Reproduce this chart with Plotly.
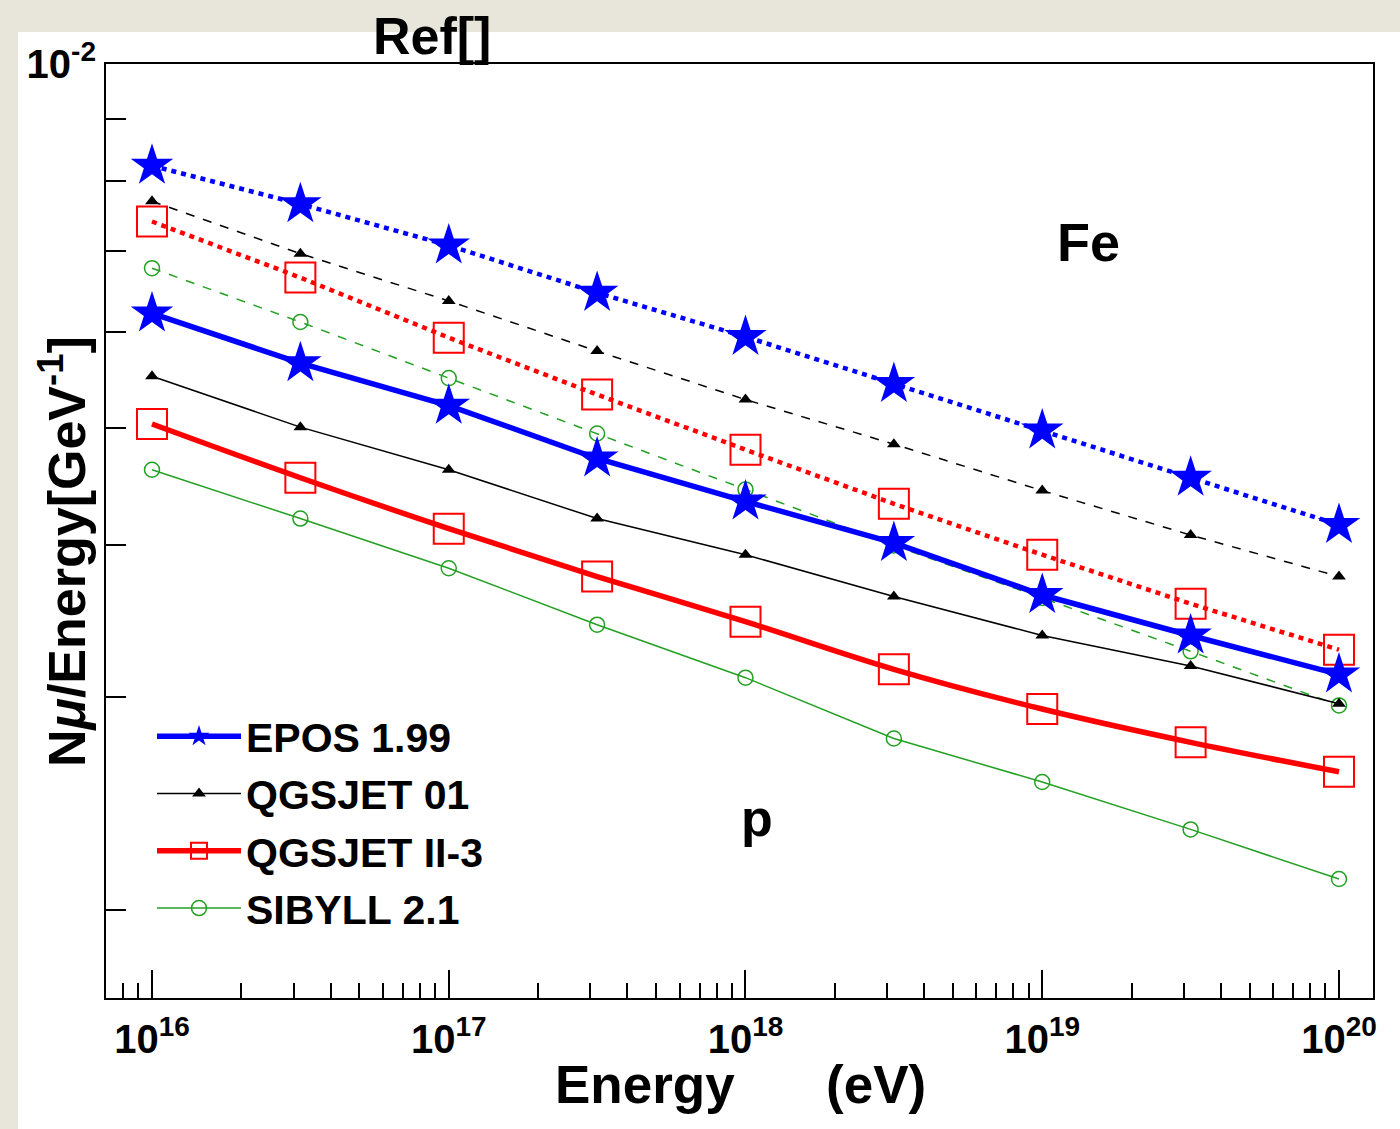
import plotly.graph_objects as go

energy = [1e16, 10**16.5, 1e17, 10**17.5, 1e18, 10**18.5, 1e19, 10**19.5, 1e20]

epos_fe = [8.24e-3, 7.66e-3, 7.08e-3, 6.47e-3, 5.95e-3, 5.44e-3, 4.98e-3, 4.55e-3, 4.16e-3]
epos_p = [6.22e-3, 5.66e-3, 5.22e-3, 4.72e-3, 4.35e-3, 4.02e-3, 3.64e-3, 3.37e-3, 3.13e-3]
qgs01_fe = [7.70e-3, 6.97e-3, 6.37e-3, 5.79e-3, 5.28e-3, 4.85e-3, 4.44e-3, 4.08e-3, 3.77e-3]
qgs01_p = [5.52e-3, 5.01e-3, 4.62e-3, 4.21e-3, 3.93e-3, 3.63e-3, 3.37e-3, 3.18e-3, 2.96e-3]
qgs2_fe = [7.41e-3, 6.66e-3, 5.94e-3, 5.33e-3, 4.80e-3, 4.33e-3, 3.93e-3, 3.58e-3, 3.28e-3]
qgs2_p = [5.04e-3, 4.55e-3, 4.13e-3, 3.77e-3, 3.46e-3, 3.16e-3, 2.93e-3, 2.75e-3, 2.60e-3]
sib_fe = [6.78e-3, 6.12e-3, 5.50e-3, 4.95e-3, 4.45e-3, 4.00e-3, 3.62e-3, 3.27e-3, 2.95e-3]
sib_p = [4.62e-3, 4.21e-3, 3.83e-3, 3.44e-3, 3.11e-3, 2.77e-3, 2.55e-3, 2.33e-3, 2.12e-3]

model_names = ["EPOS 1.99", "QGSJET 01", "QGSJET II-3", "SIBYLL 2.1"]

x_tickvals = [1e16, 1e17, 1e18, 1e19, 1e20]
x_ticktext = ["10<sup>16</sup>", "10<sup>17</sup>", "10<sup>18</sup>", "10<sup>19</sup>", "10<sup>20</sup>"]
y_tickvals = [1e-2, 9e-3, 8e-3, 7e-3, 6e-3, 5e-3, 4e-3, 3e-3, 2e-3]
y_ticktext = ["10<sup>-2</sup>", "", "", "", "", "", "", "", ""]

BLUE = "#0000ff"
RED = "#ff0000"
GREEN = "#22a022"
BLACK = "#000000"
FONT = "Liberation Sans, Arial, sans-serif"

fig = go.Figure()

# Fe curves (dashed / dotted), no legend
fig.add_trace(go.Scatter(x=energy, y=qgs01_fe, mode="lines+markers", legendgroup="g2", showlegend=False,
                         line=dict(color=BLACK, width=1.5, dash="dash"),
                         marker=dict(symbol="triangle-up", size=12, color=BLACK)))
fig.add_trace(go.Scatter(x=energy, y=sib_fe, mode="lines+markers", legendgroup="g4", showlegend=False,
                         line=dict(color=GREEN, width=1.5, dash="dash"),
                         marker=dict(symbol="circle-open", size=15, color=GREEN, line=dict(width=1.5, color=GREEN))))
fig.add_trace(go.Scatter(x=energy, y=qgs2_fe, mode="lines+markers", legendgroup="g3", showlegend=False,
                         line=dict(color=RED, width=4.5, dash="5px,5px"),
                         marker=dict(symbol="square-open", size=30, color=RED, line=dict(width=2, color=RED))))
fig.add_trace(go.Scatter(x=energy, y=epos_fe, mode="lines+markers", legendgroup="g1", showlegend=False,
                         line=dict(color=BLUE, width=4.5, dash="5px,5px"),
                         marker=dict(symbol="star", size=32, color=BLUE)))

# p curves (solid), with legend
fig.add_trace(go.Scatter(x=energy, y=epos_p, mode="lines+markers", name=model_names[0], legendgroup="g1",
                         line=dict(color=BLUE, width=5.5),
                         marker=dict(symbol="star", size=32, color=BLUE)))
fig.add_trace(go.Scatter(x=energy, y=qgs01_p, mode="lines+markers", name=model_names[1], legendgroup="g2",
                         line=dict(color=BLACK, width=1.5),
                         marker=dict(symbol="triangle-up", size=12, color=BLACK)))
fig.add_trace(go.Scatter(x=energy, y=qgs2_p, mode="lines+markers", name=model_names[2], legendgroup="g3",
                         line=dict(color=RED, width=5.5, shape="spline"),
                         marker=dict(symbol="square-open", size=30, color=RED, line=dict(width=2, color=RED))))
fig.add_trace(go.Scatter(x=energy, y=sib_p, mode="lines+markers", name=model_names[3], legendgroup="g4",
                         line=dict(color=GREEN, width=1.5),
                         marker=dict(symbol="circle-open", size=15, color=GREEN, line=dict(width=1.5, color=GREEN))))

def px_x(px):
    return (px - 106) / 1267.0

def px_y(py):
    return (998 - py) / 934.0

annotations = [
    dict(text="<b>Fe</b>", x=px_x(1088), y=px_y(242), font=dict(size=54)),
    dict(text="<b>p</b>", x=px_x(757), y=px_y(818), font=dict(size=52)),
    dict(text="<b>Ref[]</b>", x=px_x(432), y=px_y(36), font=dict(size=52)),
    dict(text="<b>N<i>μ</i>/Energy[GeV<sup>-1</sup>]</b>", x=px_x(63), y=px_y(552), textangle=-90, font=dict(size=52)),
    dict(text="<b>Energy</b>", x=px_x(645), y=px_y(1084), font=dict(size=53)),
    dict(text="<b>(eV)</b>", x=px_x(876), y=px_y(1084), font=dict(size=53)),
]
for a in annotations:
    a.update(xref="paper", yref="paper", showarrow=False, xanchor="center", yanchor="middle")
    a["font"].update(family=FONT, color="black")

fig.update_layout(
    width=1400, height=1129,
    margin=dict(l=106, r=27, t=64, b=131),
    paper_bgcolor="#e8e5da",
    plot_bgcolor="white",
    font=dict(family=FONT, color="black"),
    annotations=annotations,
    shapes=[dict(type="rect", xref="paper", yref="paper", x0=-0.0695, x1=1.05, y0=-0.2, y1=1.0343,
                 fillcolor="white", line=dict(width=0), layer="below")],
    legend=dict(x=px_x(152), y=px_y(703), xanchor="left", yanchor="top",
                bgcolor="rgba(0,0,0,0)", itemwidth=84, traceorder="grouped", tracegroupgap=1,
                font=dict(size=41, family=FONT, weight="bold")),
    showlegend=True,
)

fig.update_xaxes(
    type="log", range=[15.845, 20.1146],
    tickvals=x_tickvals, ticktext=x_ticktext,
    ticks="inside", ticklen=28, tickwidth=2, tickcolor="black",
    minor=dict(dtick="D1", ticks="inside", ticklen=15, tickwidth=2, tickcolor="black", showgrid=False),
    showgrid=False, zeroline=False,
    showline=True, linecolor="black", linewidth=2, mirror=True,
    ticklabelstandoff=5,
    tickfont=dict(size=40, family=FONT, weight="bold"),
)
fig.update_yaxes(
    type="log", range=[-2.772, -2],
    tickvals=y_tickvals, ticktext=y_ticktext,
    ticks="inside", ticklen=20, tickwidth=2, tickcolor="black",
    showgrid=False, zeroline=False,
    showline=True, linecolor="black", linewidth=2, mirror=True,
    tickfont=dict(size=40, family=FONT, weight="bold"),
)

fig.write_html("out.html")
